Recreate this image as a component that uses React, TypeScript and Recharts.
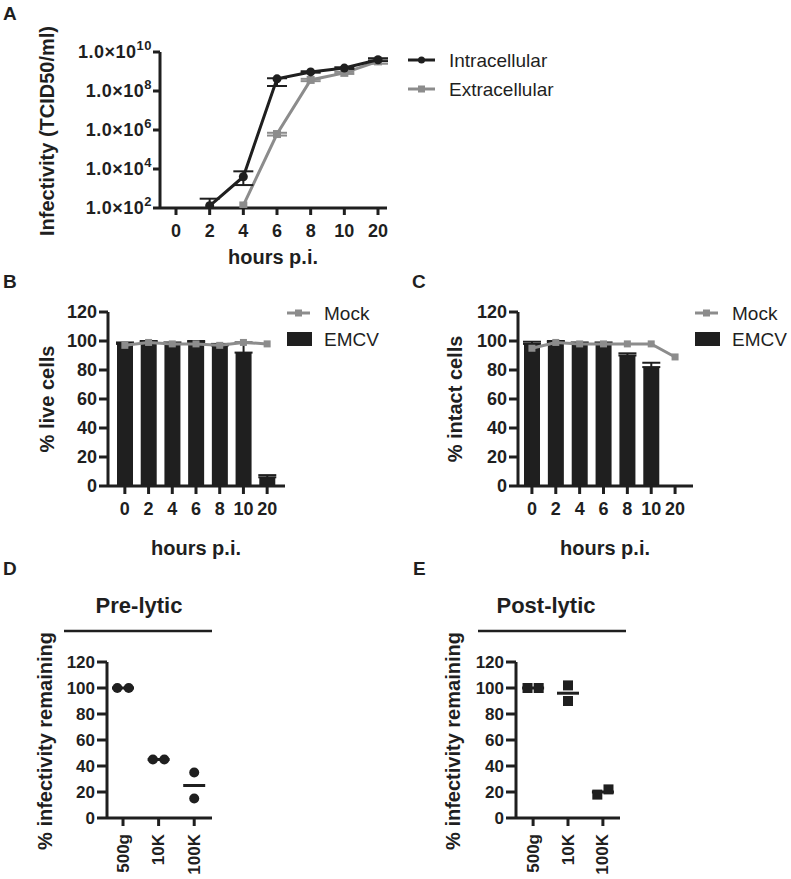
import React from 'react';
import {
  LineChart,
  Line,
  ComposedChart,
  Bar,
  ScatterChart,
  Scatter,
  XAxis,
  YAxis,
  ErrorBar,
  Legend,
} from 'recharts';

const FONT = '"Liberation Sans", Arial, Helvetica, sans-serif';
const INK = '#1f1f1f';
const GREY = '#8c8c8c';

// Panel A: virus growth (TCID50/ml, log axis)
const HOURS = ['0', '2', '4', '6', '8', '10', '20'];
const INTRACELLULAR = [null, 130, 4000, 4.2e8, 9.5e8, 1.5e9, 4e9];
const INTRACELLULAR_ERR = [null, [30, 170], [2500, 3600], [2.4e8, 3e7], [8e7, 8e7], [1.5e8, 1.5e8], [6e8, 8e8]];
const EXTRACELLULAR = [null, null, 135, 6.2e5, 3.7e8, 8.5e8, 3.3e9];
const EXTRACELLULAR_ERR = [null, null, null, [1e5, 1e5], [5e7, 5e7], [1e8, 1e8], [8e8, 8e8]];
const LOG_TICKS = [1e2, 1e4, 1e6, 1e8, 1e10];

// Panel B: live cells (%)
const LIVE_MOCK = [97, 99, 98, 98, 97, 99, 98];
const LIVE_EMCV = [98, 99, 98, 99, 97, 92, 6];
const LIVE_EMCV_ERR = [1, 1, 1, 1, 1, 7, 1.5];

// Panel C: intact cells (%)
const INTACT_MOCK = [95, 99, 98, 98, 98, 98, 89];
const INTACT_EMCV = [98, 99, 98, 98, 90, 82, 0];
const INTACT_EMCV_ERR = [1.5, 1, 1, 1, 1.5, 3, 0];

const PERCENT_TICKS = [0, 20, 40, 60, 80, 100, 120];

// Panels D / E: infectivity remaining after centrifugation
const FRACTIONS = ['500g', '10K', '100K'];
const PRE_LYTIC_REP1 = [100, 45, 35];
const PRE_LYTIC_REP2 = [100, 45, 15];
const POST_LYTIC_REP1 = [100, 102, 18];
const POST_LYTIC_REP2 = [100, 90, 22];

const growthData = HOURS.map((h, i) => ({
  hour: h,
  intra: INTRACELLULAR[i],
  intraErr: INTRACELLULAR_ERR[i],
  extra: EXTRACELLULAR[i],
  extraErr: EXTRACELLULAR_ERR[i],
}));

// bars only show the upper half of their error bar
const viabilityData = (mock: number[], emcv: number[], err: number[]) =>
  HOURS.map((h, i) => ({ hour: h, mock: mock[i], emcv: emcv[i], emcvErr: err[i] ? [0, err[i]] : null }));

// spread overlapping replicates sideways, like a scatter dot plot does
const dotData = (rep1: number[], rep2: number[]) => {
  const pts: { x: number; y: number }[] = [];
  FRACTIONS.forEach((_, i) => {
    const close = Math.abs(rep1[i] - rep2[i]) < 8;
    const off = close ? 0.16 : 0;
    pts.push({ x: i - off, y: rep1[i] });
    pts.push({ x: i + off, y: rep2[i] });
  });
  return pts;
};
const meanData = (rep1: number[], rep2: number[]) =>
  FRACTIONS.map((_, i) => ({ x: i, y: (rep1[i] + rep2[i]) / 2 }));

const tickFont = { fontFamily: FONT, fontWeight: 700, fill: INK };

function PowerTick(props: any) {
  const { x, y, payload } = props;
  const exp = Math.round(Math.log10(payload.value));
  return (
    <text x={x} y={y} dy={6} textAnchor="end" {...tickFont} fontSize={18} letterSpacing={0.5}>
      <tspan>1.0×10</tspan>
      <tspan dy={-8} fontSize={13}>{exp}</tspan>
    </text>
  );
}

function RotatedTick(props: any) {
  const { x, y, payload } = props;
  return (
    <text
      x={x}
      y={y}
      transform={`rotate(-90 ${x} ${y})`}
      textAnchor="end"
      dominantBaseline="central"
      {...tickFont}
      fontSize={17}
    >
      {FRACTIONS[payload.value]}
    </text>
  );
}

const squareDot = (size: number, color: string) => (p: any) => {
  if (p.cx == null || p.cy == null || p.value == null) return <g key={`s-${p.index}`} />;
  return <rect key={`s-${p.index}`} x={p.cx - size / 2} y={p.cy - size / 2} width={size} height={size} fill={color} />;
};
const circleDot = (r: number, color: string) => (p: any) => {
  if (p.cx == null || p.cy == null || p.value == null) return <g key={`c-${p.index}`} />;
  return <circle key={`c-${p.index}`} cx={p.cx} cy={p.cy} r={r} fill={color} />;
};

function LineLegend() {
  const rows = [
    { name: 'Intracellular', color: INK, square: false },
    { name: 'Extracellular', color: GREY, square: true },
  ];
  return (
    <svg width={170} height={70}>
      {rows.map((r, i) => (
        <g key={r.name} transform={`translate(0 ${20 + i * 29})`}>
          <line x1={0} x2={27} y1={0} y2={0} stroke={r.color} strokeWidth={3} />
          {r.square ? (
            <rect x={10} y={-3.5} width={7} height={7} fill={r.color} />
          ) : (
            <circle cx={13.5} cy={0} r={3.5} fill={r.color} />
          )}
          <text x={41} y={0} dy={7} fontFamily={FONT} fontSize={19} fill={INK}>
            {r.name}
          </text>
        </g>
      ))}
    </svg>
  );
}

function BarLegend() {
  return (
    <svg width={110} height={64}>
      <line x1={0} x2={23} y1={18} y2={18} stroke={GREY} strokeWidth={3} />
      <rect x={8} y={14.5} width={7} height={7} fill={GREY} />
      <text x={37} y={18} dy={7} fontFamily={FONT} fontSize={19} fill={INK}>Mock</text>
      <rect x={0} y={37} width={25} height={14} fill={INK} />
      <text x={37} y={44} dy={7} fontFamily={FONT} fontSize={19} fill={INK}>EMCV</text>
    </svg>
  );
}

function ViabilityPanel({ data, left, padL, padR, legendLeft }: any) {
  return (
    <div style={{ position: 'absolute', left, top: 270 }}>
      <ComposedChart
        width={left === 0 ? 400 : 391}
        height={290}
        data={data}
        margin={{ top: 42, right: left === 0 ? 115 : 98, left: left === 0 ? 48 : 58, bottom: 34 }}
        barSize={16}
      >
        <XAxis
          dataKey="hour"
          padding={{ left: padL, right: padR }}
          stroke={INK}
          strokeWidth={3}
          tickSize={8}
          tickMargin={8}
          tick={{ ...tickFont, fontSize: 18 }}
          height={40}
          interval={0}
        />
        <YAxis
          domain={[0, 120]}
          ticks={PERCENT_TICKS}
          stroke={INK}
          strokeWidth={3}
          tickSize={9}
          tickMargin={2}
          tick={{ ...tickFont, fontSize: 18 }}
          width={60}
          interval={0}
        />
        <Bar dataKey="emcv" fill={INK} isAnimationActive={false}>
          <ErrorBar dataKey="emcvErr" width={9} strokeWidth={2} stroke={INK} direction="y" />
        </Bar>
        <Line
          dataKey="mock"
          stroke={GREY}
          strokeWidth={3}
          dot={squareDot(7, GREY)}
          activeDot={false}
          isAnimationActive={false}
        />
        <Legend
          layout="vertical"
          align="center"
          verticalAlign="middle"
          content={() => <BarLegend />}
          wrapperStyle={{ left: legendLeft, top: 25, width: 110 }}
        />
      </ComposedChart>
    </div>
  );
}

function DotPanel({ left, rep1, rep2, square, domain, marginLeft, marginRight }: any) {
  const pts = dotData(rep1, rep2);
  const means = meanData(rep1, rep2);
  return (
    <div style={{ position: 'absolute', left, top: 560 }}>
      <ScatterChart
        width={left === 0 ? 400 : 391}
        height={319}
        margin={{ top: 102, right: marginRight, left: marginLeft, bottom: 1 }}
      >
        <XAxis
          type="number"
          dataKey="x"
          domain={domain}
          ticks={[0, 1, 2]}
          allowDataOverflow
          stroke={INK}
          strokeWidth={3}
          tickSize={8}
          tickMargin={8}
          tick={<RotatedTick />}
          height={60}
          interval={0}
        />
        <YAxis
          type="number"
          dataKey="y"
          domain={[0, 120]}
          ticks={PERCENT_TICKS}
          stroke={INK}
          strokeWidth={3}
          tickSize={10}
          tickMargin={2}
          tick={{ ...tickFont, fontSize: 17 }}
          width={50}
          interval={0}
        />
        <Scatter
          data={means}
          isAnimationActive={false}
          shape={(p: any) => (
            <line x1={p.cx - 11} x2={p.cx + 11} y1={p.cy} y2={p.cy} stroke={INK} strokeWidth={3} />
          )}
        />
        <Scatter
          data={pts}
          isAnimationActive={false}
          shape={(p: any) =>
            square ? (
              <rect x={p.cx - 5} y={p.cy - 5} width={10} height={10} fill={INK} />
            ) : (
              <circle cx={p.cx} cy={p.cy} r={5} fill={INK} />
            )
          }
        />
      </ScatterChart>
    </div>
  );
}

const titleStyle = { fontFamily: FONT, fontWeight: 700, fill: INK } as const;

function VLabel({ x, y, text }: { x: number; y: number; text: string }) {
  return (
    <text
      x={x}
      y={y}
      transform={`rotate(-90 ${x} ${y})`}
      textAnchor="middle"
      dominantBaseline="central"
      fontSize={20}
      {...titleStyle}
    >
      {text}
    </text>
  );
}

export default function App() {
  return (
    <div style={{ position: 'absolute', left: 0, top: 0, width: 791, height: 879, background: '#fff' }}>
      {/* A */}
      <div style={{ position: 'absolute', left: 0, top: 0 }}>
        <LineChart width={400} height={270} data={growthData} margin={{ top: 52, right: 13, left: 60, bottom: 22 }}>
          <XAxis
            dataKey="hour"
            padding={{ left: 16, right: 9 }}
            stroke={INK}
            strokeWidth={3}
            tickSize={7}
            tickMargin={9}
            tick={{ ...tickFont, fontSize: 18 }}
            height={40}
            interval={0}
          />
          <YAxis
            scale="log"
            domain={[1e2, 1e10]}
            ticks={LOG_TICKS}
            allowDataOverflow
            stroke={INK}
            strokeWidth={3}
            tickSize={7}
            tickMargin={1}
            tick={<PowerTick />}
            width={100}
            interval={0}
          />
          <Line
            dataKey="extra"
            stroke={GREY}
            strokeWidth={3}
            dot={squareDot(8, GREY)}
            activeDot={false}
            isAnimationActive={false}
          >
            <ErrorBar dataKey="extraErr" width={10} strokeWidth={2} stroke={GREY} direction="y" />
          </Line>
          <Line
            dataKey="intra"
            stroke={INK}
            strokeWidth={3}
            dot={circleDot(4.5, INK)}
            activeDot={false}
            isAnimationActive={false}
          >
            <ErrorBar dataKey="intraErr" width={10} strokeWidth={2} stroke={INK} direction="y" />
          </Line>
          <Legend
            layout="vertical"
            align="center"
            verticalAlign="middle"
            content={() => <LineLegend />}
            wrapperStyle={{ left: 408, top: 40, width: 170 }}
          />
        </LineChart>
      </div>

      {/* B, C */}
      <ViabilityPanel data={viabilityData(LIVE_MOCK, LIVE_EMCV, LIVE_EMCV_ERR)} left={0} padL={5} padR={6} legendLeft={287} />
      <ViabilityPanel data={viabilityData(INTACT_MOCK, INTACT_EMCV, INTACT_EMCV_ERR)} left={400} padL={2} padR={6} legendLeft={295} />

      {/* D, E */}
      <DotPanel left={0} rep1={PRE_LYTIC_REP1} rep2={PRE_LYTIC_REP2} square={false} domain={[-0.45, 2.5]} marginLeft={57} marginRight={188} />
      <DotPanel left={400} rep1={POST_LYTIC_REP1} rep2={POST_LYTIC_REP2} square={true} domain={[-0.49, 2.49]} marginLeft={66} marginRight={171} />

      {/* labels */}
      <svg width={791} height={879} style={{ position: 'absolute', left: 0, top: 0, pointerEvents: 'none' }}>
        <text x={3} y={20} fontSize={19} {...titleStyle}>A</text>
        <text x={3} y={288} fontSize={19} {...titleStyle}>B</text>
        <text x={412} y={288} fontSize={19} {...titleStyle}>C</text>
        <text x={3} y={575} fontSize={19} {...titleStyle}>D</text>
        <text x={413} y={575} fontSize={19} {...titleStyle}>E</text>

        <VLabel x={47} y={131} text="Infectivity (TCID50/ml)" />
        <text x={273} y={264} textAnchor="middle" fontSize={20} {...titleStyle}>hours p.i.</text>

        <VLabel x={47} y={399} text="% live cells" />
        <text x={196} y={555} textAnchor="middle" fontSize={20} {...titleStyle}>hours p.i.</text>
        <VLabel x={455} y={399} text="% intact cells" />
        <text x={605} y={555} textAnchor="middle" fontSize={20} {...titleStyle}>hours p.i.</text>

        <text x={139} y={613} textAnchor="middle" fontSize={22} {...titleStyle}>Pre-lytic</text>
        <line x1={64} x2={212} y1={631} y2={631} stroke={INK} strokeWidth={2.5} />
        <VLabel x={45} y={741} text="% infectivity remaining" />

        <text x={546} y={613} textAnchor="middle" fontSize={22} {...titleStyle}>Post-lytic</text>
        <line x1={478} x2={626} y1={631} y2={631} stroke={INK} strokeWidth={2.5} />
        <VLabel x={453} y={741} text="% infectivity remaining" />
      </svg>
    </div>
  );
}
